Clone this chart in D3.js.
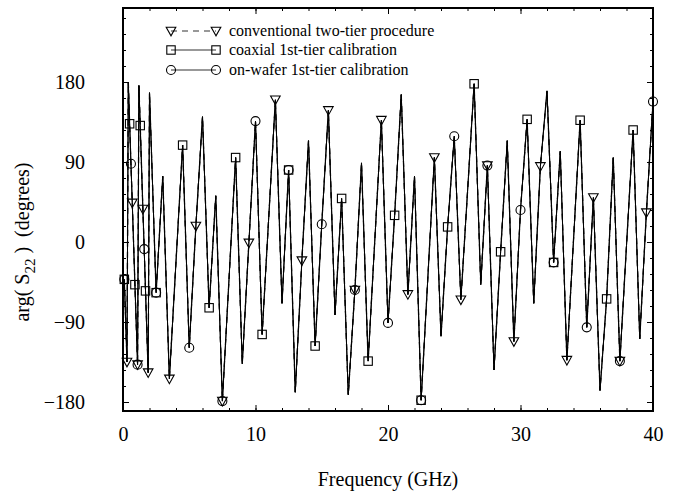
<!DOCTYPE html>
<html>
<head>
<meta charset="utf-8">
<script src="https://cdn.jsdelivr.net/npm/d3@7"></script>
<style>
  html, body { margin: 0; padding: 0; background: #fff; }
  svg { display: block; }
  text { font-family: "Liberation Serif", "Times New Roman", serif; fill: #000; }
</style>
</head>
<body>
<svg id="chart" width="681" height="493"></svg>
<script>
// ---- data ----
const freqGHz = [
  0.1, 0.2, 0.3, 0.4, 0.5, 0.6, 0.7, 0.8, 0.9, 1.0,
  1.1, 1.2, 1.3, 1.4, 1.5, 1.6, 1.7, 1.8, 1.9, 2.0,
  2.5, 3.0, 3.5, 4.0, 4.5, 5.0, 5.5, 6.0, 6.5, 7.0,
  7.5, 8.0, 8.5, 9.0, 9.5, 10.0, 10.5, 11.0, 11.5, 12.0,
  12.5, 13.0, 13.5, 14.0, 14.5, 15.0, 15.5, 16.0, 16.5, 17.0,
  17.5, 18.0, 18.5, 19.0, 19.5, 20.0, 20.5, 21.0, 21.5, 22.0,
  22.5, 23.0, 23.5, 24.0, 24.5, 25.0, 25.5, 26.0, 26.5, 27.0,
  27.5, 28.0, 28.5, 29.0, 29.5, 30.0, 30.5, 31.0, 31.5, 32.0,
  32.5, 33.0, 33.5, 34.0, 34.5, 35.0, 35.5, 36.0, 36.5, 37.0,
  37.5, 38.0, 38.5, 39.0, 39.5, 40.0
];
// arg(S22) in degrees; the three calibrations overlap on the picture
const phaseDeg = [
  -42, -88, -135, 180, 133, 88, 44, -2, -48, -93,
  -138, 176, 131, 84, 37, -8, -55, -101, -147, 168,
  -57, 74, -154, -22, 109, -119, 18, 141, -74, 52,
  -179, -42, 95, -137, -1, 136, -104, 28, 160, -69,
  81, -169, -21, 114, -117, 20, 148, -82, 49, -172,
  -54, 89, -134, 1, 137, -91, 30, 166, -59, 74,
  -178, -42, 95, -106, 17, 119, -65, 56, 178, -48,
  86, -144, -11, 114, -112, 36, 138, -69, 85, 170,
  -23, 102, -133, 2, 137, -96, 50, -167, -64, 95,
  -134, -4, 126, -109, 33, 158
];
const seriesNames = ["conventional two-tier procedure", "coaxial 1st-tier calibration", "on-wafer 1st-tier calibration"];
const seriesMarkers = ["triangle", "square", "circle"];
const markerEvery = [4, 4, 5];
const markerOffset = [2, 0, 0];
const seriesDash = ["6,5", null, null];

const xMajorTicks = [0, 10, 20, 30, 40];
const xMinorTicks = [0, 2, 4, 6, 8, 10, 12, 14, 16, 18, 20, 22, 24, 26, 28, 30, 32, 34, 36, 38, 40];
const yMajorTicks = [-180, -90, 0, 90, 180];
const yMinorTicks = [-180, -162, -144, -126, -108, -90, -72, -54, -36, -18, 0, 18, 36, 54, 72, 90, 108, 126, 144, 162, 180, 198, 216, 234, 252];

// ---- layout ----
const L = 123, R = 653, T = 8, B = 411;
const svg = d3.select("#chart");

const x = d3.scaleLinear().domain([0, 40]).range([L, R]);
const y = d3.scaleLinear().domain([-180, 180]).range([402, 82]);

// axes (ticks pointing inward)
function styleAxis(g) {
  g.select(".domain").remove();
  g.selectAll(".tick line").attr("stroke", "#000").attr("stroke-width", 1);
  g.selectAll(".tick text").style("font-family", '"Liberation Serif", serif').style("font-size", "20px").attr("fill", "#000");
}
svg.append("g").attr("transform", `translate(0,${B})`)
  .call(d3.axisBottom(x).tickValues(xMinorTicks).tickSize(-3).tickFormat(""))
  .call(styleAxis);
svg.append("g").attr("transform", `translate(0,${B})`)
  .call(d3.axisBottom(x).tickValues(xMajorTicks).tickSize(-6).tickPadding(16).tickFormat(d3.format("d")))
  .call(styleAxis);
svg.append("g").attr("transform", `translate(0,${T})`)
  .call(d3.axisTop(x).tickValues(xMinorTicks).tickSize(-3).tickFormat(""))
  .call(styleAxis);
svg.append("g").attr("transform", `translate(0,${T})`)
  .call(d3.axisTop(x).tickValues(xMajorTicks).tickSize(-6).tickFormat(""))
  .call(styleAxis);
const yMinorIn = yMinorTicks.filter(v => y(v) > T + 1 && y(v) < B - 1);
svg.append("g").attr("transform", `translate(${L},0)`)
  .call(d3.axisLeft(y).tickValues(yMinorIn).tickSize(-3).tickFormat(""))
  .call(styleAxis);
svg.append("g").attr("transform", `translate(${L},0)`)
  .call(d3.axisLeft(y).tickValues(yMajorTicks).tickSize(-6).tickPadding(38).tickFormat(d3.format("d")))
  .call(styleAxis);
svg.append("g").attr("transform", `translate(${R},0)`)
  .call(d3.axisRight(y).tickValues(yMinorIn).tickSize(-3).tickFormat(""))
  .call(styleAxis);
svg.append("g").attr("transform", `translate(${R},0)`)
  .call(d3.axisRight(y).tickValues(yMajorTicks).tickSize(-6).tickFormat(""))
  .call(styleAxis);

// data lines
const pts = freqGHz.map((f, i) => ({ f, v: phaseDeg[i], i }));
const line = d3.line().x(d => x(d.f)).y(d => y(d.v));
const plot = svg.append("g");
seriesNames.forEach((name, s) => {
  plot.append("path").datum(pts)
    .attr("d", line)
    .attr("fill", "none")
    .attr("stroke", "#000")
    .attr("stroke-width", s === 0 ? 1.3 : 1.0)
    .attr("stroke-linejoin", "miter")
    .attr("stroke-dasharray", seriesDash[s]);
});

// markers
function drawMarker(g, type, cx, cy) {
  if (type === "triangle") {
    g.append("path").attr("d", `M${cx - 4.8},${cy - 3.8} L${cx + 4.8},${cy - 3.8} L${cx},${cy + 4.8} Z`)
      .attr("fill", "none").attr("stroke", "#000").attr("stroke-width", 1.1);
  } else if (type === "square") {
    g.append("rect").attr("x", cx - 4.2).attr("y", cy - 4.2).attr("width", 8.4).attr("height", 8.4)
      .attr("fill", "none").attr("stroke", "#000").attr("stroke-width", 1.1);
  } else {
    g.append("circle").attr("cx", cx).attr("cy", cy).attr("r", 4.5)
      .attr("fill", "none").attr("stroke", "#000").attr("stroke-width", 1.1);
  }
}
seriesNames.forEach((name, s) => {
  const g = svg.append("g");
  pts.filter(d => (d.i - markerOffset[s]) % markerEvery[s] === 0 && d.i >= markerOffset[s])
    .forEach(d => drawMarker(g, seriesMarkers[s], x(d.f), y(d.v)));
});

// frame
svg.append("rect").attr("x", L).attr("y", T).attr("width", R - L).attr("height", B - T)
  .attr("fill", "none").attr("stroke", "#000").attr("stroke-width", 2);

// legend
const legRows = [31, 50, 70];
const lg = svg.append("g");
seriesNames.forEach((name, s) => {
  const yy = legRows[s];
  lg.append("line").attr("x1", 171).attr("x2", 216).attr("y1", yy).attr("y2", yy)
    .attr("stroke", "#333").attr("stroke-width", 1.2).attr("stroke-dasharray", seriesDash[s]);
  drawMarker(lg, seriesMarkers[s], 171, yy);
  drawMarker(lg, seriesMarkers[s], 216, yy);
  lg.append("text").attr("x", 229).attr("y", yy + 5).style("font-size", "16px").text(name);
});

// axis titles
svg.append("text").attr("x", (L + R) / 2).attr("y", 486).attr("text-anchor", "middle")
  .style("font-size", "20px").text("Frequency (GHz)");
const yt = svg.append("text").attr("transform", `translate(29,${(82 + 402) / 2}) rotate(-90)`)
  .attr("text-anchor", "middle").style("font-size", "20px").style("white-space", "pre");
yt.append("tspan").text("arg( S");
yt.append("tspan").attr("dy", 6).style("font-size", "15px").text("22");
yt.append("tspan").attr("dy", -6).text(" )  (degrees)");
</script>
</body>
</html>
